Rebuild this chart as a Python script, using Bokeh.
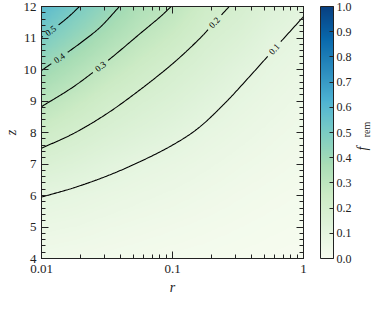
import numpy as np
from bokeh.plotting import figure
from bokeh.models import (LinearColorMapper, ColorBar, FixedTicker, LinearAxis, LogAxis,
                          CustomJSTickFormatter, PrintfTickFormatter, Label, Range1d)
from bokeh.core.properties import value
from bokeh.palettes import GnBu9
from bokeh.embed import file_html
from bokeh.resources import INLINE

# ---------------- data ----------------
LOGR_GRID = [-2.0, -1.75, -1.5, -1.25, -1.0, -0.75, -0.5, -0.25, 0.0]
Z_GRID = [4, 5, 6, 7, 8, 9, 10, 11, 12]
# f_rem on the grid: one row per z value, columns follow LOGR_GRID
FREM_Z4 = [0.040, 0.035, 0.030, 0.025, 0.020, 0.017, 0.013, 0.010, 0.008]
FREM_Z5 = [0.068, 0.062, 0.052, 0.044, 0.037, 0.030, 0.024, 0.018, 0.014]
FREM_Z6 = [0.103, 0.093, 0.080, 0.068, 0.058, 0.047, 0.037, 0.029, 0.022]
FREM_Z7 = [0.168, 0.144, 0.117, 0.096, 0.082, 0.067, 0.053, 0.042, 0.032]
FREM_Z8 = [0.238, 0.202, 0.168, 0.140, 0.116, 0.089, 0.072, 0.056, 0.043]
FREM_Z9 = [0.316, 0.268, 0.219, 0.184, 0.155, 0.122, 0.093, 0.073, 0.056]
FREM_Z10 = [0.403, 0.343, 0.283, 0.236, 0.194, 0.157, 0.119, 0.090, 0.070]
FREM_Z11 = [0.498, 0.426, 0.355, 0.292, 0.246, 0.192, 0.157, 0.112, 0.088]
FREM_Z12 = [0.590, 0.511, 0.430, 0.350, 0.300, 0.232, 0.196, 0.145, 0.110]

# contour lines (log10 r, z)
LEVELS = [0.1, 0.2, 0.3, 0.4, 0.5]
LEVEL_TEXT = ["0.1", "0.2", "0.3", "0.4", "0.5"]
C01_LOGR = [-2.0, -1.75, -1.5, -1.25, -1.0, -0.8, -0.6, -0.4, -0.2, 0.0]
C01_Z = [5.95, 6.25, 6.62, 7.07, 7.60, 8.15, 8.93, 9.83, 10.76, 11.68]
C02_LOGR = [-2.0, -1.75, -1.5, -1.25, -1.0, -0.8, -0.7, -0.567]
C02_Z = [7.50, 7.98, 8.60, 9.35, 10.18, 10.95, 11.40, 12.0]
C03_LOGR = [-2.0, -1.75, -1.5, -1.25, -1.1, -1.01]
C03_Z = [8.82, 9.47, 10.26, 11.13, 11.65, 12.0]
C04_LOGR = [-2.0, -1.85, -1.7, -1.55, -1.405]
C04_Z = [9.97, 10.40, 10.85, 11.35, 12.0]
C05_LOGR = [-2.0, -1.9, -1.8, -1.71]
C05_Z = [11.02, 11.32, 11.65, 12.0]
LABEL_LOGR = [-0.224, -0.68, -1.55, -1.863, -1.93]

X_MAJOR = [0.01, 0.1, 1.0]
X_MINOR = [0.02, 0.03, 0.04, 0.05, 0.06, 0.07, 0.08, 0.09,
           0.2, 0.3, 0.4, 0.5, 0.6, 0.7, 0.8, 0.9]
Y_MAJOR = [4, 5, 6, 7, 8, 9, 10, 11, 12]
Y_MINOR = [round(4 + 0.2 * i, 1) for i in range(41)]
CB_TICKS = [0.0, 0.1, 0.2, 0.3, 0.4, 0.5, 0.6, 0.7, 0.8, 0.9, 1.0]

# ---------------- styling ----------------
FONT = "Liberation Serif"
INK = "#222222"
FRAME_W, FRAME_H = 262, 252
PX_DEC = FRAME_W / 2.0
PX_Z = FRAME_H / 8.0


def hex2rgb(h):
    return np.array([int(h[i:i + 2], 16) for i in (1, 3, 5)], dtype=float)


base = [hex2rgb(c) for c in reversed(GnBu9)]
pos = np.linspace(0, 1, len(base))
palette = []
for t in np.linspace(0, 1, 256):
    rgb = [np.interp(t, pos, [b[k] for b in base]) for k in range(3)]
    palette.append("#%02x%02x%02x" % tuple(int(round(v)) for v in rgb))

mapper = LinearColorMapper(palette=palette, low=0.0, high=1.0)

p = figure(frame_width=FRAME_W, frame_height=FRAME_H, x_axis_type="log",
           x_range=Range1d(0.01, 1.0), y_range=Range1d(4, 12),
           output_backend="svg", toolbar_location=None,
           min_border_left=31, min_border_top=6, min_border_bottom=35,
           min_border_right=0)
p.grid.visible = False
p.outline_line_color = INK
p.background_fill_color = "white"

# background field image (rendered on a fine grid from the table)
table = np.array([FREM_Z4, FREM_Z5, FREM_Z6, FREM_Z7, FREM_Z8,
                  FREM_Z9, FREM_Z10, FREM_Z11, FREM_Z12])
nx, ny = 300, 280
fx = np.linspace(LOGR_GRID[0], LOGR_GRID[-1], nx)
fy = np.linspace(Z_GRID[0], Z_GRID[-1], ny)
rows = np.array([np.interp(fx, LOGR_GRID, r) for r in table])
img = np.array([[np.interp(y, Z_GRID, rows[:, j]) for j in range(nx)] for y in fy])
p.image(image=[img], x=10 ** LOGR_GRID[0], y=Z_GRID[0],
        dw=10 ** LOGR_GRID[-1] - 10 ** LOGR_GRID[0], dh=Z_GRID[-1] - Z_GRID[0],
        color_mapper=mapper)


def smooth(sx, sy, per=30):
    """Catmull-Rom curve through the read points (screen space)."""
    P = np.column_stack([sx, sy])
    P = np.vstack([2 * P[0] - P[1], P, 2 * P[-1] - P[-2]])
    out = []
    for i in range(1, len(P) - 2):
        p0, p1, p2, p3 = P[i - 1], P[i], P[i + 1], P[i + 2]
        for t in np.linspace(0, 1, per, endpoint=False):
            t2, t3 = t * t, t * t * t
            out.append(0.5 * ((2 * p1) + (-p0 + p2) * t +
                              (2 * p0 - 5 * p1 + 4 * p2 - p3) * t2 +
                              (-p0 + 3 * p1 - 3 * p2 + p3) * t3))
    out.append(P[-2])
    out = np.array(out)
    return out[:, 0], out[:, 1]


contours = [(C01_LOGR, C01_Z), (C02_LOGR, C02_Z), (C03_LOGR, C03_Z),
            (C04_LOGR, C04_Z), (C05_LOGR, C05_Z)]
GAP = 9.5
lab_x, lab_y, lab_a = [], [], []
for (cx, cz), llog in zip(contours, LABEL_LOGR):
    cx = np.array(cx); cz = np.array(cz)
    sx = (cx - LOGR_GRID[0]) * PX_DEC
    sy = (cz - Z_GRID[0]) * PX_Z
    qx, qy = smooth(sx, sy)
    dx = qx / PX_DEC + LOGR_GRID[0]
    dz = qy / PX_Z + Z_GRID[0]
    dz = np.minimum(dz, Z_GRID[-1])
    lz = np.interp(llog, dx, dz)
    z1 = np.interp(llog - 0.04, dx, dz)
    z2 = np.interp(llog + 0.04, dx, dz)
    ang = np.arctan2((z2 - z1) * PX_Z, 0.08 * PX_DEC)
    d = np.hypot((dx - llog) * PX_DEC, (dz - lz) * PX_Z)
    dx = dx.copy(); dz = dz.copy()
    dx[d < GAP] = np.nan
    dz[d < GAP] = np.nan
    p.line(x=10 ** dx, y=dz, line_color="black", line_width=1.1)
    lab_x.append(10 ** llog); lab_y.append(lz); lab_a.append(ang)

p.text(x=lab_x, y=lab_y, text=LEVEL_TEXT, angle=lab_a,
       text_align="center", text_baseline="middle",
       text_font=value(FONT), text_font_size="9px", text_color="black")

# axes
xt = FixedTicker(ticks=X_MAJOR, minor_ticks=X_MINOR)
yt = FixedTicker(ticks=Y_MAJOR, minor_ticks=Y_MINOR)


def style_axis(ax):
    ax.major_tick_in = 7
    ax.major_tick_out = 0
    ax.minor_tick_in = 4
    ax.minor_tick_out = 0
    ax.axis_line_color = INK
    ax.major_tick_line_color = INK
    ax.minor_tick_line_color = INK
    ax.major_label_text_font = FONT
    ax.major_label_text_font_size = "13px"
    ax.major_label_text_color = INK
    ax.axis_label_text_font = FONT
    ax.axis_label_text_font_size = "14px"
    ax.axis_label_text_font_style = "italic"
    ax.axis_label_text_color = INK


p.xaxis.ticker = xt
p.xaxis.formatter = CustomJSTickFormatter(code="return String(tick);")
p.yaxis.ticker = yt
p.xaxis.axis_label = "r"
p.yaxis.axis_label = "z"
style_axis(p.xaxis[0]); style_axis(p.yaxis[0])
p.xaxis.major_label_standoff = 6
p.yaxis.major_label_standoff = 5
p.xaxis.axis_label_standoff = 4
p.yaxis.axis_label_standoff = 2

empty = CustomJSTickFormatter(code="return '';")
top = LogAxis(ticker=xt, formatter=empty)
right = LinearAxis(ticker=yt, formatter=empty)
style_axis(top); style_axis(right)
top.major_label_standoff = 0
right.major_label_standoff = 0
p.add_layout(top, "above")
p.add_layout(right, "right")

# invisible spacer between frame and colour bar
spacer = LinearAxis(ticker=yt, formatter=empty, major_tick_in=0, major_tick_out=17,
                    minor_tick_in=0, minor_tick_out=0, major_label_standoff=0,
                    axis_line_color=None, major_tick_line_color=None,
                    minor_tick_line_color=None)
p.add_layout(spacer, "right")

cb = ColorBar(color_mapper=mapper, ticker=FixedTicker(ticks=CB_TICKS),
              formatter=PrintfTickFormatter(format="%.1f"),
              width=13, height=FRAME_H, padding=0, margin=0,
              bar_line_color=INK, bar_line_width=1,
              major_tick_line_color=INK, major_tick_in=4, major_tick_out=0,
              minor_tick_line_color=None, label_standoff=3,
              major_label_text_font=FONT, major_label_text_font_size="12px",
              major_label_text_color=INK,
              background_fill_alpha=0, border_line_color=None)
p.add_layout(cb, "right")

p.add_layout(Label(x=8, y=110, x_units="screen", y_units="screen",
                   text="f", angle=np.pi / 2, text_align="center",
                   text_baseline="middle", text_font=FONT, text_font_size="14px",
                   text_font_style="italic", text_color=INK), "right")
p.add_layout(Label(x=-3, y=129, x_units="screen", y_units="screen",
                   text="rem", angle=np.pi / 2, text_align="center",
                   text_baseline="middle", text_font=FONT, text_font_size="10px",
                   text_color=INK), "right")

open("out.html", "w").write(file_html(p, INLINE))
